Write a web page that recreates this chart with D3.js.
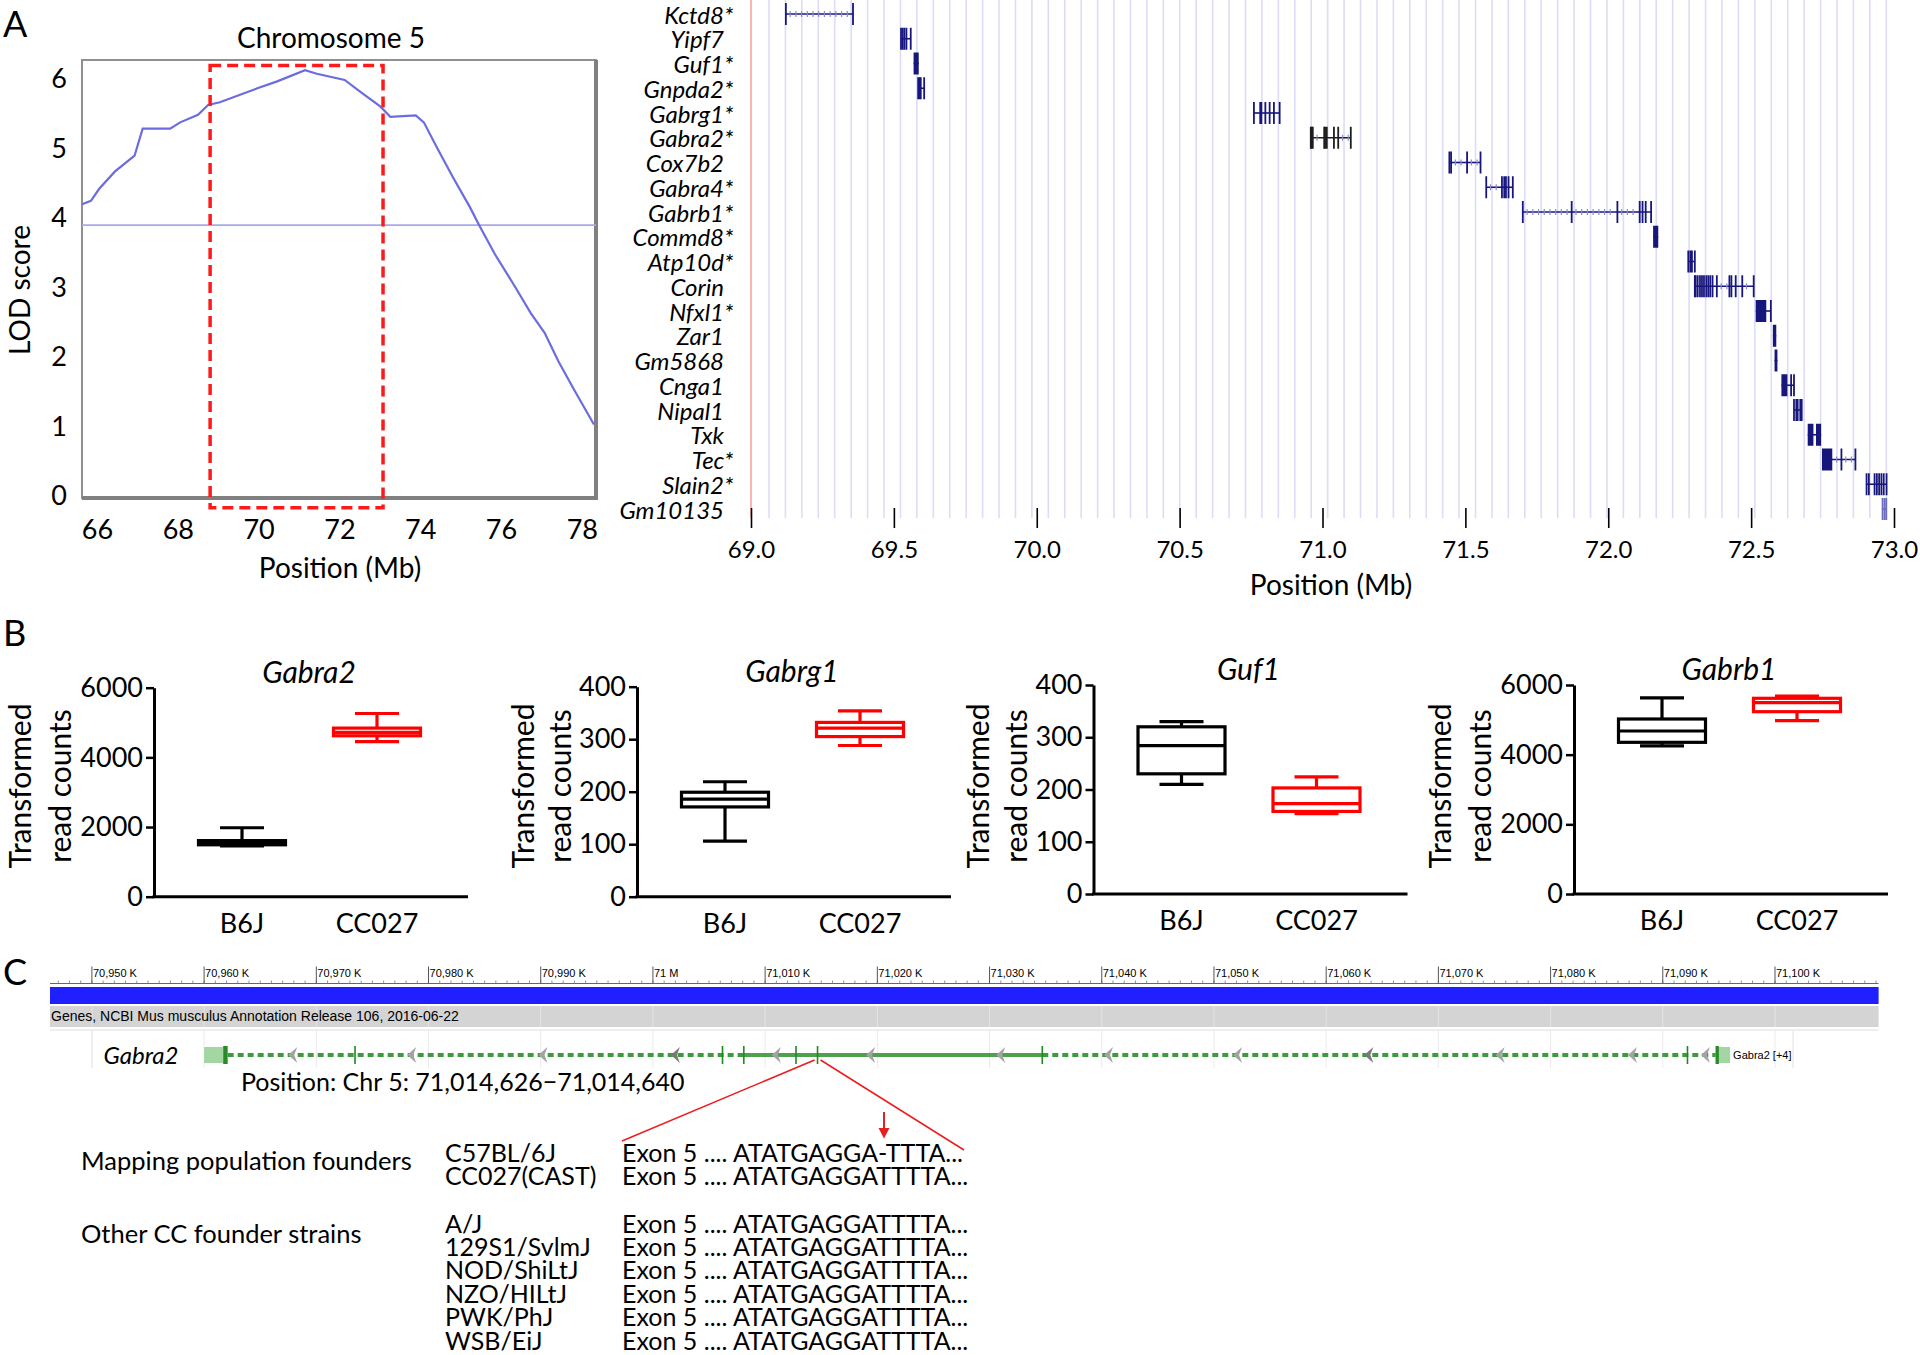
<!DOCTYPE html>
<html>
<head>
<meta charset="utf-8">
<script src="https://cdn.jsdelivr.net/npm/d3@7"></script>
<style>
  body { margin: 0; background: #fff; }
  text { font-family: Lato, "Open Sans", sans-serif; fill: #000; }
  .narrow { font-family: "Liberation Sans Narrow", "Liberation Sans", sans-serif; }
</style>
</head>
<body>
<div id="container"></div>
<script>
// ---------- data: panel A, LOD profile ----------
const lodPos = [65.63, 65.85, 66.05, 66.44, 66.93, 67.13, 67.81, 68.06, 68.50, 68.75, 69.04,
  69.97, 70.46, 71.15, 71.44, 72.13, 72.52, 73.01, 73.26, 73.89, 74.09, 74.43, 74.82,
  75.22, 75.46, 75.85, 76.34, 76.74, 77.08, 77.42, 77.81, 78.30];
const lodScore = [4.20, 4.25, 4.42, 4.67, 4.90, 5.29, 5.29, 5.38, 5.49, 5.63, 5.67,
  5.87, 5.97, 6.13, 6.08, 5.99, 5.82, 5.61, 5.46, 5.48, 5.38, 5.00, 4.58,
  4.17, 3.90, 3.48, 3.02, 2.63, 2.35, 1.94, 1.53, 1.03];
const lodThreshold = 3.9;
const qtlInterval = [68.8, 73.08];
const lodXTicks = [66, 68, 70, 72, 74, 76, 78];
const lodYTicks = [0, 1, 2, 3, 4, 5, 6];

// ---------- data: panel A, genes in the interval ----------
const geneNames = ['Kctd8', 'Yipf7', 'Guf1', 'Gnpda2', 'Gabrg1', 'Gabra2', 'Cox7b2', 'Gabra4',
  'Gabrb1', 'Commd8', 'Atp10d', 'Corin', 'Nfxl1', 'Zar1', 'Gm5868', 'Cnga1', 'Nipal1',
  'Txk', 'Tec', 'Slain2', 'Gm10135'];
const geneStar = [true, false, true, true, true, true, false, true, true, true, true, false,
  true, false, false, false, false, false, true, true, false];
const geneStart = [69.122, 69.525, 69.569, 69.585, 70.760, 70.959, 71.444, 71.573, 71.701,
  72.157, 72.280, 72.303, 72.516, 72.576, 72.582, 72.606, 72.650, 72.698, 72.748, 72.904, 72.958];
const geneEnd = [69.357, 69.559, 69.587, 69.606, 70.850, 71.099, 71.553, 71.666, 72.150,
  72.175, 72.303, 72.509, 72.569, 72.588, 72.592, 72.650, 72.677, 72.745, 72.865, 72.974, 72.974];
const geneExons = [
  [69.122, 69.357],
  [69.525, 69.531, 69.537, 69.544, 69.559],
  [],
  [69.585, 69.590, 69.594, 69.606],
  [70.760, 70.782, 70.786, 70.800, 70.815, 70.830, 70.850],
  [70.959, 70.962, 70.966, 71.006, 71.009, 71.015, 71.040, 71.055, 71.099],
  [71.444, 71.450, 71.506, 71.553],
  [71.573, 71.628, 71.636, 71.642, 71.651, 71.666],
  [71.701, 71.872, 72.032, 72.110, 72.120, 72.131, 72.150],
  [],
  [72.280, 72.303],
  [72.303, 72.306, 72.313, 72.321, 72.328, 72.335, 72.343, 72.350, 72.357, 72.365, 72.380,
   72.424, 72.431, 72.446, 72.469, 72.509],
  [72.569],
  [],
  [],
  [72.640, 72.650],
  [72.650, 72.672, 72.677],
  [],
  [72.816, 72.865],
  [72.904, 72.912, 72.932, 72.940, 72.948, 72.956, 72.964, 72.974],
  [72.960, 72.967, 72.973]
];
const geneBlocks = [
  [], [], [[69.569, 69.587]], [], [], [], [], [], [],
  [[72.157, 72.175]], [[72.284, 72.296]], [], [[72.516, 72.553]],
  [[72.576, 72.588]], [[72.582, 72.592]], [[72.606, 72.627]], [[72.655, 72.666]],
  [[72.698, 72.718], [72.727, 72.745]], [[72.748, 72.784]], [], []
];
const geneXTicks = [69.0, 69.5, 70.0, 70.5, 71.0, 71.5, 72.0, 72.5, 73.0];

// ---------- data: panel B, expression box plots ----------
const boxGenes = ['Gabra2', 'Gabrg1', 'Guf1', 'Gabrb1'];
const boxMax = [6000, 400, 400, 6000];
const boxTicks = [[0, 2000, 4000, 6000], [0, 100, 200, 300, 400], [0, 100, 200, 300, 400], [0, 2000, 4000, 6000]];
const strains = ['B6J', 'CC027'];
// [min, q1, median, q3, max]
const b6jStats = [[1460, 1490, 1550, 1610, 1980], [106, 171, 186, 199, 219],
  [210, 230, 284, 320, 330], [4250, 4354, 4680, 5024, 5630]];
const cc027Stats = [[4450, 4620, 4720, 4840, 5260], [288, 305, 321, 332, 354],
  [154, 158, 173, 203, 224], [4975, 5234, 5492, 5618, 5684]];

// ---------- data: panel C, Gabra2 locus ----------
const rulerMajor = [70950, 70960, 70970, 70980, 70990, 71000, 71010, 71020, 71030, 71040,
  71050, 71060, 71070, 71080, 71090, 71100];
const gabra2Exons = [70973.45, 71006.2, 71008.1, 71012.75, 71014.67, 71034.7, 71092.2];
const gabra2Utr = [[70960.0, 70961.7], [71095.0, 71096.0]];
const gabra2Cds = [[70961.7, 70962.1], [71094.7, 71095.0]];
const gabra2Solid = [71008.1, 71034.7];
const gabra2Arrows = [70967.5, 70978.1, 70989.8, 71001.6, 71010.6, 71019.0, 71030.6, 71040.2,
  71051.7, 71063.4, 71075.1, 71086.9, 71093.4];
const snpExon = 71014.67;
const groupNames = ['Mapping population founders', 'Other CC founder strains'];
const strainGroup = [0, 0, 1, 1, 1, 1, 1, 1];
const strainNames = ['C57BL/6J', 'CC027(CAST)', 'A/J', '129S1/SvlmJ', 'NOD/ShiLtJ', 'NZO/HILtJ', 'PWK/PhJ', 'WSB/EiJ'];
const strainSeqs = ['Exon 5 .... ATATGAGGA-TTTA...', 'Exon 5 .... ATATGAGGATTTTA...',
  'Exon 5 .... ATATGAGGATTTTA...', 'Exon 5 .... ATATGAGGATTTTA...', 'Exon 5 .... ATATGAGGATTTTA...',
  'Exon 5 .... ATATGAGGATTTTA...', 'Exon 5 .... ATATGAGGATTTTA...', 'Exon 5 .... ATATGAGGATTTTA...'];

const width = 1920;
const height = 1355;
const navy = '#16167c';

const svg = d3.select('#container')
  .append('svg')
  .attr('width', width)
  .attr('height', height)
  .attr('viewBox', [0, 0, width, height]);

svg.append('rect').attr('width', width).attr('height', height).attr('fill', '#fff');

function panelLetter(t, x, y) {
  svg.append('text').attr('x', x).attr('y', y).attr('font-size', 36).text(t);
}

// ================= Panel A, left: LOD =================
function drawLod() {
  const x = d3.scaleLinear().domain([66, 78]).range([97, 581.8]);
  const y = d3.scaleLinear().domain([0, 6]).range([496, 79.3]);
  const g = svg.append('g');
  const box = { left: 82, right: 596, top: 60, bottom: 498 };

  g.append('rect')
    .attr('x', box.left).attr('y', box.top)
    .attr('width', box.right - box.left).attr('height', box.bottom - box.top)
    .attr('fill', 'none').attr('stroke', '#909090').attr('stroke-width', 2);
  g.append('path')
    .attr('d', `M${box.right},${box.top}V${box.bottom}H${box.left}`)
    .attr('fill', 'none').attr('stroke', '#808080').attr('stroke-width', 4);

  g.append('line')
    .attr('x1', box.left).attr('x2', box.right)
    .attr('y1', y(lodThreshold)).attr('y2', y(lodThreshold))
    .attr('stroke', '#a8a8ec').attr('stroke-width', 1.6);

  const line = d3.line().x((d, i) => x(lodPos[i])).y(d => y(d));
  g.append('path')
    .datum(lodScore)
    .attr('d', line)
    .attr('fill', 'none').attr('stroke', '#6c6ce0').attr('stroke-width', 2.2);

  g.append('rect')
    .attr('x', x(qtlInterval[0])).attr('y', y(6.2))
    .attr('width', x(qtlInterval[1]) - x(qtlInterval[0]))
    .attr('height', y(-0.17) - y(6.2))
    .attr('fill', 'none').attr('stroke', '#ff1a1a')
    .attr('stroke-width', 3.5).attr('stroke-dasharray', '11,6');

  const ay = g.append('g').attr('transform', `translate(${box.left},0)`)
    .call(d3.axisLeft(y).tickValues(lodYTicks).tickFormat(d3.format('d')).tickSize(0).tickPadding(15));
  ay.select('.domain').remove();
  ay.selectAll('text').attr('font-size', 27).attr('font-family', 'Lato');

  const ax = g.append('g').attr('transform', `translate(0,${box.bottom})`)
    .call(d3.axisBottom(x).tickValues(lodXTicks).tickFormat(d3.format('d')).tickSize(0).tickPadding(22));
  ax.select('.domain').remove();
  ax.selectAll('text').attr('font-size', 27).attr('font-family', 'Lato');

  g.append('text').attr('x', 331).attr('y', 48).attr('text-anchor', 'middle')
    .attr('font-size', 28).text('Chromosome 5');
  g.append('text').attr('x', 340).attr('y', 578).attr('text-anchor', 'middle')
    .attr('font-size', 28).text('Position (Mb)');
  g.append('text').attr('transform', 'translate(20,290) rotate(-90)')
    .attr('text-anchor', 'middle').attr('dy', '0.35em')
    .attr('font-size', 28).text('LOD score');
}

// ================= Panel A, right: genes =================
function drawGenes() {
  const x = d3.scaleLinear().domain([69, 73]).range([751, 1894]);
  const y = d3.scalePoint().domain(geneNames).range([15, 510]);
  const g = svg.append('g');
  const gridBottom = 518;

  g.selectAll('line.grid')
    .data(d3.range(69.063, 73.0, 0.0575))
    .join('line')
    .attr('x1', d => x(d)).attr('x2', d => x(d))
    .attr('y1', 0).attr('y2', gridBottom)
    .attr('stroke', '#dcdcf8').attr('stroke-width', 1.6);
  g.append('line')
    .attr('x1', x(69)).attr('x2', x(69)).attr('y1', 0).attr('y2', gridBottom)
    .attr('stroke', '#ffb4b4').attr('stroke-width', 2);

  const ax = g.append('g').attr('transform', 'translate(0,508)')
    .call(d3.axisBottom(x).tickValues(geneXTicks).tickFormat(d3.format('.1f')).tickSize(20).tickPadding(13));
  ax.select('.domain').remove();
  ax.selectAll('line').attr('stroke', '#000').attr('stroke-width', 1.6);
  ax.selectAll('text').attr('font-size', 24).attr('font-family', 'Lato');

  g.append('text').attr('x', 1331).attr('y', 595).attr('text-anchor', 'middle')
    .attr('font-size', 28).text('Position (Mb)');

  // labels: name right-aligned at 724, asterisk hanging past it (same text element)
  g.selectAll('text.lab').data(geneNames).join('text')
    .attr('class', 'lab')
    .attr('x', 724).attr('y', d => y(d)).attr('dy', '0.36em')
    .attr('text-anchor', 'end').attr('font-size', 24).attr('font-style', 'italic')
    .each(function (d, i) {
      const t = d3.select(this);
      t.append('tspan').text(d);
      if (geneStar[i]) {
        const star = t.append('tspan').text('*');
        t.attr('x', 724 + star.node().getComputedTextLength());
      }
    });

  // gene models
  geneNames.forEach((name, i) => {
    const cy = y(name) - 1;
    const col = name === 'Gabra2' ? '#1e1e1e' : (name === 'Gm10135' ? '#6a6ac0' : navy);
    const gg = g.append('g');
    gg.append('line')
      .attr('x1', x(geneStart[i])).attr('x2', x(geneEnd[i]))
      .attr('y1', cy).attr('y2', cy)
      .attr('stroke', col).attr('stroke-width', 1.6);
    // strand arrows along long introns
    const stops = geneExons[i].concat(geneBlocks[i].flat()).sort(d3.ascending);
    for (let k = 0; k < stops.length - 1; k++) {
      if (stops[k + 1] - stops[k] > 0.03) {
        gg.selectAll(null)
          .data(d3.range(stops[k] + 0.015, stops[k + 1] - 0.008, 0.02))
          .join('line')
          .attr('x1', d => x(d)).attr('x2', d => x(d))
          .attr('y1', cy - 3).attr('y2', cy + 3)
          .attr('stroke', '#8a8ad0').attr('stroke-width', 1.2);
      }
    }
    gg.selectAll('line.ex').data(geneExons[i]).join('line')
      .attr('x1', d => x(d)).attr('x2', d => x(d))
      .attr('y1', cy - 11).attr('y2', cy + 11)
      .attr('stroke', col).attr('stroke-width', 1.8);
    gg.selectAll('rect').data(geneBlocks[i]).join('rect')
      .attr('x', d => x(d[0])).attr('width', d => Math.max(2.5, x(d[1]) - x(d[0])))
      .attr('y', cy - 11).attr('height', 22)
      .attr('fill', col);
  });
}

// ================= Panel B: box plots =================
function drawBoxes() {
  const layout = [
    { ax: 154, top: 687.7, bottom: 896.7, lab: [134, 94] },
    { ax: 637, top: 686.7, bottom: 896.7, lab: [114, 77] },
    { ax: 1093.5, top: 685, bottom: 894, lab: [115, 77] },
    { ax: 1574, top: 685, bottom: 894, lab: [134, 94] }
  ];
  const plotW = 314;
  boxGenes.forEach((gene, i) => {
    const L = layout[i];
    const g = svg.append('g');
    const y = d3.scaleLinear().domain([0, boxMax[i]]).range([L.bottom, L.top]);
    const x = d3.scalePoint().domain(strains).range([L.ax + 88, L.ax + 223]);

    const ay = g.append('g').attr('transform', `translate(${L.ax},0)`)
      .call(d3.axisLeft(y).tickValues(boxTicks[i]).tickFormat(d3.format('d'))
        .tickSize(8).tickPadding(3).tickSizeOuter(0));
    ay.select('.domain').attr('stroke-width', 3);
    ay.selectAll('line').attr('stroke-width', 2.5);
    ay.selectAll('text').attr('font-size', 27).attr('font-family', 'Lato');

    g.append('line').attr('x1', L.ax - 1.5).attr('x2', L.ax + plotW)
      .attr('y1', L.bottom).attr('y2', L.bottom)
      .attr('stroke', '#000').attr('stroke-width', 3);

    g.selectAll('text.cat').data(strains).join('text')
      .attr('x', d => x(d)).attr('y', L.bottom + 36)
      .attr('text-anchor', 'middle').attr('font-size', 27).text(d => d);

    g.append('text').attr('x', L.ax + 155).attr('y', L.top - 5)
      .attr('text-anchor', 'middle').attr('font-size', 30).attr('font-style', 'italic').text(gene);

    ['Transformed', 'read counts'].forEach((t, k) => {
      g.append('text')
        .attr('transform', `translate(${L.ax - L.lab[k]},786) rotate(-90)`)
        .attr('text-anchor', 'middle').attr('dy', '0.35em')
        .attr('font-size', 30).text(t);
    });

    const stats = [b6jStats[i], cc027Stats[i]];
    const cols = ['#000', '#ff0000'];
    strains.forEach((s, k) => {
      const st = stats[k];
      const cx = x(s);
      const bw = 87, cw = 44;
      const bg = g.append('g').attr('stroke', cols[k]).attr('stroke-width', 3.2).attr('fill', 'none');
      bg.append('line').attr('x1', cx).attr('x2', cx).attr('y1', y(st[0])).attr('y2', y(st[1]));
      bg.append('line').attr('x1', cx).attr('x2', cx).attr('y1', y(st[3])).attr('y2', y(st[4]));
      bg.append('line').attr('x1', cx - cw / 2).attr('x2', cx + cw / 2).attr('y1', y(st[0])).attr('y2', y(st[0]));
      bg.append('line').attr('x1', cx - cw / 2).attr('x2', cx + cw / 2).attr('y1', y(st[4])).attr('y2', y(st[4]));
      bg.append('rect').attr('x', cx - bw / 2).attr('width', bw)
        .attr('y', y(st[3])).attr('height', y(st[1]) - y(st[3])).attr('fill', '#fff');
      bg.append('line').attr('x1', cx - bw / 2).attr('x2', cx + bw / 2).attr('y1', y(st[2])).attr('y2', y(st[2]));
    });
  });
}

// ================= Panel C: genome browser =================
function drawBrowser() {
  const x = d3.scaleLinear().domain([70950, 71100]).range([91.9, 1775]);
  const g = svg.append('g');
  const left = 50, right = 1878.6;
  const rulerY = 983.5;

  g.append('line').attr('x1', left).attr('x2', right).attr('y1', rulerY).attr('y2', rulerY)
    .attr('stroke', '#666').attr('stroke-width', 1);
  g.selectAll('line.minor').data(d3.range(70947, 71110, 1)).join('line')
    .attr('x1', d => x(d)).attr('x2', d => x(d))
    .attr('y1', rulerY - 3).attr('y2', rulerY)
    .attr('stroke', '#777').attr('stroke-width', 0.8);
  g.selectAll('line.major').data(rulerMajor).join('line')
    .attr('x1', d => x(d)).attr('x2', d => x(d))
    .attr('y1', rulerY - 17).attr('y2', rulerY)
    .attr('stroke', '#555').attr('stroke-width', 1);
  g.selectAll('text.major').data(rulerMajor).join('text')
    .attr('class', 'narrow')
    .attr('x', d => x(d) + 1).attr('y', rulerY - 7)
    .attr('font-size', 11).attr('fill', '#333')
    .text(d => d === 71000 ? '71 M' : d3.format(',')(d) + ' K');

  g.append('rect').attr('x', left).attr('y', 987).attr('width', right - left).attr('height', 17)
    .attr('fill', '#1f1fff');
  g.append('rect').attr('x', left).attr('y', 1006).attr('width', right - left).attr('height', 21)
    .attr('fill', '#d4d4d4');
  g.selectAll('line.gband').data(rulerMajor).join('line')
    .attr('x1', d => x(d)).attr('x2', d => x(d))
    .attr('y1', 1006).attr('y2', 1027)
    .attr('stroke', '#e4e4e4').attr('stroke-width', 1);
  g.append('text').attr('class', 'narrow')
    .attr('x', left + 1).attr('y', 1021).attr('font-size', 14).attr('fill', '#3a3a3a')
    .text('Genes, NCBI Mus musculus Annotation Release 106, 2016-06-22');

  // gene track frame
  g.append('line').attr('x1', left).attr('x2', right).attr('y1', 1030).attr('y2', 1030)
    .attr('stroke', '#eeeeee').attr('stroke-width', 2);
  g.selectAll('line.tgrid').data(rulerMajor).join('line')
    .attr('x1', d => x(d)).attr('x2', d => x(d))
    .attr('y1', 1030).attr('y2', 1068)
    .attr('stroke', '#ebebeb').attr('stroke-width', 1);
  g.append('path').attr('d', 'M92,1031V1068M1793,1031V1068')
    .attr('stroke', '#ebebeb').attr('stroke-width', 1.5).attr('fill', 'none');

  const cy = 1055;
  const green = '#3c9c3c';
  g.append('line').attr('x1', x(gabra2Cds[0][1])).attr('x2', x(gabra2Solid[0]))
    .attr('y1', cy).attr('y2', cy)
    .attr('stroke', green).attr('stroke-width', 4).attr('stroke-dasharray', '6,4');
  g.append('line').attr('x1', x(gabra2Solid[0])).attr('x2', x(gabra2Solid[1]))
    .attr('y1', cy).attr('y2', cy)
    .attr('stroke', '#4ea24e').attr('stroke-width', 4);
  g.append('line').attr('x1', x(gabra2Solid[1])).attr('x2', x(gabra2Cds[1][0]))
    .attr('y1', cy).attr('y2', cy)
    .attr('stroke', green).attr('stroke-width', 4).attr('stroke-dasharray', '6,4');

  g.selectAll('path.arrow').data(gabra2Arrows).join('path')
    .attr('d', d => `M${x(d) + 9},${cy - 8}L${x(d)},${cy}L${x(d) + 9},${cy + 8}L${x(d) + 6},${cy}Z`)
    .attr('fill', (d, i) => (i === 3 || i === 9) ? '#7a7a7a' : '#a3a3a3');

  g.selectAll('line.exon').data(gabra2Exons).join('line')
    .attr('x1', d => x(d)).attr('x2', d => x(d))
    .attr('y1', cy - 9).attr('y2', cy + 9)
    .attr('stroke', '#1d8a1d').attr('stroke-width', 1.6);
  g.selectAll('rect.utr').data(gabra2Utr).join('rect')
    .attr('x', d => x(d[0])).attr('width', d => x(d[1]) - x(d[0]))
    .attr('y', cy - 8).attr('height', 16).attr('fill', '#a4d6a4');
  g.selectAll('rect.cds').data(gabra2Cds).join('rect')
    .attr('x', d => x(d[0])).attr('width', d => Math.max(3, x(d[1]) - x(d[0])))
    .attr('y', cy - 9).attr('height', 18).attr('fill', '#2a8a2a');

  g.append('text').attr('x', 141).attr('y', cy + 9).attr('text-anchor', 'middle')
    .attr('font-size', 24).attr('font-style', 'italic').text('Gabra2');
  g.append('text').attr('class', 'narrow')
    .attr('x', x(gabra2Utr[1][1]) + 3).attr('y', cy + 4)
    .attr('font-size', 11).attr('fill', '#3d6cc0').text('Gabra2 [+4]');

  g.append('text').attr('x', 241).attr('y', 1091).attr('font-size', 25)
    .text('Position: Chr 5: 71,014,626\u221271,014,640');

  // callout from exon 5 to the sequence block
  g.append('line').attr('x1', x(snpExon) - 3).attr('y1', cy + 5).attr('x2', 622).attr('y2', 1141)
    .attr('stroke', '#ee1c1c').attr('stroke-width', 1.5);
  g.append('line').attr('x1', x(snpExon) + 3).attr('y1', cy + 5).attr('x2', 964).attr('y2', 1150)
    .attr('stroke', '#ee1c1c').attr('stroke-width', 1.5);

  g.append('line').attr('x1', 884).attr('x2', 884).attr('y1', 1112).attr('y2', 1131)
    .attr('stroke', '#e52020').attr('stroke-width', 2);
  g.append('path').attr('d', 'M878.5,1128L884,1138.5L889.5,1128Z').attr('fill', '#e52020');
}

function drawStrains() {
  const g = svg.append('g');
  const rowY = (i) => 1152.7 + i * 23.4 + (strainGroup[i] === 1 ? 24 : 0);
  g.selectAll('text.grp').data(groupNames).join('text')
    .attr('x', 81).attr('y', (d, i) => i === 0 ? 1160.7 : 1234)
    .attr('dy', '0.36em').attr('font-size', 25.5).text(d => d);
  g.selectAll('text.strain').data(strainNames).join('text')
    .attr('x', 445).attr('y', (d, i) => rowY(i))
    .attr('dy', '0.36em').attr('font-size', 25).text(d => d);
  g.selectAll('text.seq').data(strainSeqs).join('text')
    .attr('x', 622).attr('y', (d, i) => rowY(i))
    .attr('dy', '0.36em').attr('font-size', 25).text(d => d);
}

panelLetter('A', 3, 37);
panelLetter('B', 3, 646);
panelLetter('C', 3, 985);
drawLod();
drawGenes();
drawBoxes();
drawBrowser();
drawStrains();
</script>
</body>
</html>
